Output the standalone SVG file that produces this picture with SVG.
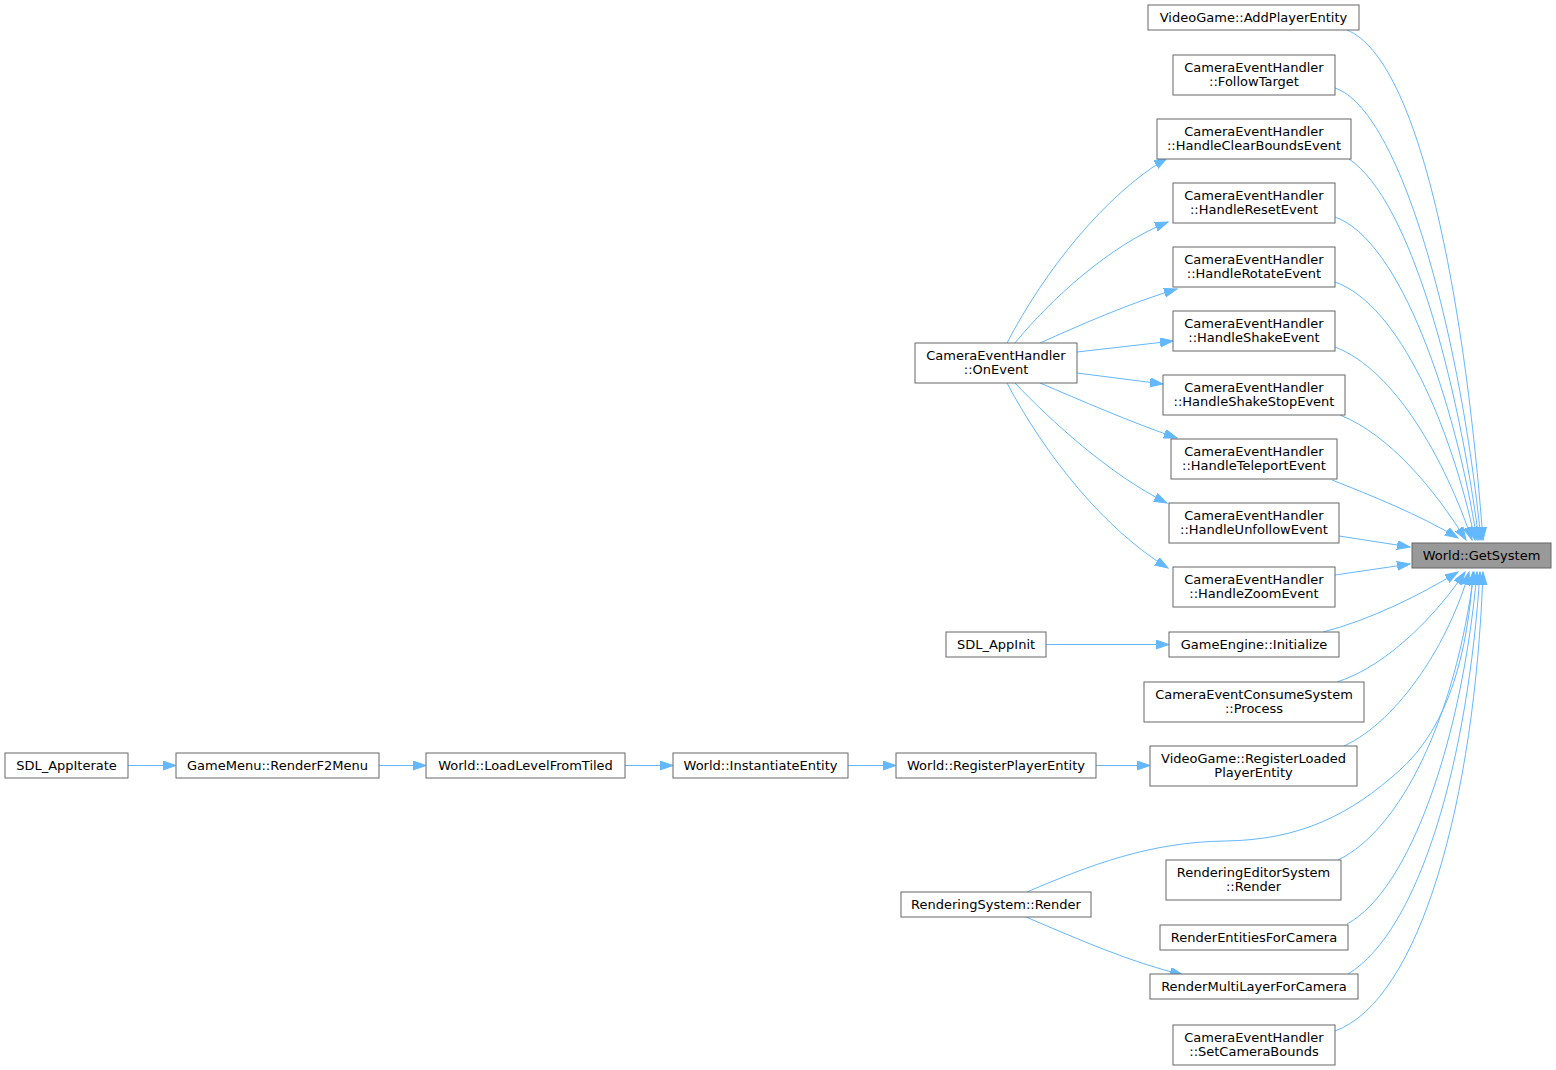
<svg xmlns="http://www.w3.org/2000/svg" width="1556" height="1070" viewBox="0 0 1556 1070">
<style>
.n rect{fill:#ffffff;stroke:#666666;stroke-width:1}
.n text{font-family:"DejaVu Sans",sans-serif;font-size:13px;fill:#000000;text-anchor:middle}
#n_getsystem rect{fill:#999999}
.e path{fill:none;stroke:#63b8ff;stroke-width:1;marker-end:url(#ah)}
</style>
<defs>
<marker id="ah" markerUnits="userSpaceOnUse" markerWidth="14" markerHeight="10" refX="13" refY="4.5" orient="auto">
<path d="M0,0 L13,4.5 L0,9 z" fill="#63b8ff" stroke="#63b8ff" stroke-width="1"/>
</marker>
</defs>
<rect width="1556" height="1070" fill="#ffffff"/>
<g id="connectors" class="e">
<path d="M1347,30 C1420,60 1465,300 1483,540"/>
<path d="M1335,88 C1400,110 1460,330 1481,540"/>
<path d="M1349,159 C1410,200 1458,380 1479,540"/>
<path d="M1335,217 C1400,240 1455,400 1477,540"/>
<path d="M1335,282 C1400,305 1452,430 1475,540"/>
<path d="M1335,347 C1395,370 1445,460 1472,540"/>
<path d="M1340,415 C1390,435 1435,490 1466,540"/>
<path d="M1332,480 C1370,495 1420,515 1458,538"/>
<path d="M1339,536 L1410,547"/>
<path d="M1335,575 L1410,564"/>
<path d="M1323,632 C1370,620 1420,595 1458,572"/>
<path d="M1337,682 C1390,665 1440,610 1465,572"/>
<path d="M1344,746 C1400,720 1450,640 1469,572"/>
<path d="M1027,892 C1090,865 1150,842 1225,841 C1300,840 1350,815 1400,770 C1450,725 1468,650 1473,572"/>
<path d="M1338,860 C1400,830 1455,720 1474,572"/>
<path d="M1347,924 C1410,890 1462,740 1477,572"/>
<path d="M1348,974 C1420,930 1468,760 1480,572"/>
<path d="M1335,1031 C1420,1000 1475,800 1483,572"/>
<path d="M1007,343 C1045,270 1105,195 1167,158"/>
<path d="M1015,343 C1050,300 1110,245 1168,222"/>
<path d="M1040,343 C1080,325 1130,303 1177,289"/>
<path d="M1077,352 L1173,341"/>
<path d="M1077,373 L1163,384"/>
<path d="M1040,383 C1080,400 1130,422 1177,438"/>
<path d="M1015,383 C1050,420 1110,475 1167,503"/>
<path d="M1007,383 C1045,455 1105,530 1168,568"/>
<path d="M1046,644.5 L1169,644.5"/>
<path d="M128,765.5 L176,765.5"/>
<path d="M379,765.5 L426,765.5"/>
<path d="M625,765.5 L673,765.5"/>
<path d="M848,765.5 L896,765.5"/>
<path d="M1096,765.5 L1150,765.5"/>
<path d="M1026,917 C1080,940 1130,962 1183,975"/>
</g>
<g id="n_getsystem" class="n"><rect x="1412" y="543" width="139" height="25"/><text x="1481.5" y="560">World::GetSystem</text></g>
<g id="n_addplayer" class="n"><rect x="1148" y="5" width="211" height="25"/><text x="1253.5" y="22">VideoGame::AddPlayerEntity</text></g>
<g id="n_follow" class="n"><rect x="1173" y="55" width="162" height="40"/><text x="1254" y="71.5">CameraEventHandler</text><text x="1254" y="86">::FollowTarget</text></g>
<g id="n_clearbounds" class="n"><rect x="1157" y="119" width="194" height="40"/><text x="1254" y="135.5">CameraEventHandler</text><text x="1254" y="150">::HandleClearBoundsEvent</text></g>
<g id="n_reset" class="n"><rect x="1173" y="183" width="162" height="40"/><text x="1254" y="199.5">CameraEventHandler</text><text x="1254" y="214">::HandleResetEvent</text></g>
<g id="n_rotate" class="n"><rect x="1173" y="247" width="162" height="40"/><text x="1254" y="263.5">CameraEventHandler</text><text x="1254" y="278">::HandleRotateEvent</text></g>
<g id="n_shake" class="n"><rect x="1173" y="311" width="162" height="40"/><text x="1254" y="327.5">CameraEventHandler</text><text x="1254" y="342">::HandleShakeEvent</text></g>
<g id="n_shakestop" class="n"><rect x="1163" y="375" width="182" height="40"/><text x="1254" y="391.5">CameraEventHandler</text><text x="1254" y="406">::HandleShakeStopEvent</text></g>
<g id="n_teleport" class="n"><rect x="1171" y="439" width="166" height="40"/><text x="1254" y="455.5">CameraEventHandler</text><text x="1254" y="470">::HandleTeleportEvent</text></g>
<g id="n_unfollow" class="n"><rect x="1169" y="503" width="170" height="40"/><text x="1254" y="519.5">CameraEventHandler</text><text x="1254" y="534">::HandleUnfollowEvent</text></g>
<g id="n_zoom" class="n"><rect x="1173" y="567" width="162" height="40"/><text x="1254" y="583.5">CameraEventHandler</text><text x="1254" y="598">::HandleZoomEvent</text></g>
<g id="n_initialize" class="n"><rect x="1169" y="632" width="170" height="25"/><text x="1254" y="649">GameEngine::Initialize</text></g>
<g id="n_process" class="n"><rect x="1144" y="682" width="220" height="40"/><text x="1254" y="698.5">CameraEventConsumeSystem</text><text x="1254" y="713">::Process</text></g>
<g id="n_regloaded" class="n"><rect x="1150" y="746" width="207" height="40"/><text x="1253.5" y="762.5">VideoGame::RegisterLoaded</text><text x="1253.5" y="777">PlayerEntity</text></g>
<g id="n_editorrender" class="n"><rect x="1166" y="860" width="175" height="40"/><text x="1253.5" y="876.5">RenderingEditorSystem</text><text x="1253.5" y="891">::Render</text></g>
<g id="n_renderentities" class="n"><rect x="1160" y="925" width="188" height="25"/><text x="1254" y="942">RenderEntitiesForCamera</text></g>
<g id="n_multilayer" class="n"><rect x="1150" y="974" width="208" height="25"/><text x="1254" y="991">RenderMultiLayerForCamera</text></g>
<g id="n_setbounds" class="n"><rect x="1173" y="1025" width="162" height="40"/><text x="1254" y="1041.5">CameraEventHandler</text><text x="1254" y="1056">::SetCameraBounds</text></g>
<g id="n_onevent" class="n"><rect x="915" y="343" width="162" height="40"/><text x="996" y="359.5">CameraEventHandler</text><text x="996" y="374">::OnEvent</text></g>
<g id="n_appinit" class="n"><rect x="946" y="632" width="100" height="25"/><text x="996" y="649">SDL_AppInit</text></g>
<g id="n_rsrender" class="n"><rect x="901" y="892" width="190" height="25"/><text x="996" y="909">RenderingSystem::Render</text></g>
<g id="n_appiterate" class="n"><rect x="5" y="753" width="123" height="25"/><text x="66.5" y="770">SDL_AppIterate</text></g>
<g id="n_f2menu" class="n"><rect x="176" y="753" width="203" height="25"/><text x="277.5" y="770">GameMenu::RenderF2Menu</text></g>
<g id="n_loadlevel" class="n"><rect x="426" y="753" width="199" height="25"/><text x="525.5" y="770">World::LoadLevelFromTiled</text></g>
<g id="n_instantiate" class="n"><rect x="673" y="753" width="175" height="25"/><text x="760.5" y="770">World::InstantiateEntity</text></g>
<g id="n_regplayer" class="n"><rect x="896" y="753" width="200" height="25"/><text x="996" y="770">World::RegisterPlayerEntity</text></g>
</svg>
